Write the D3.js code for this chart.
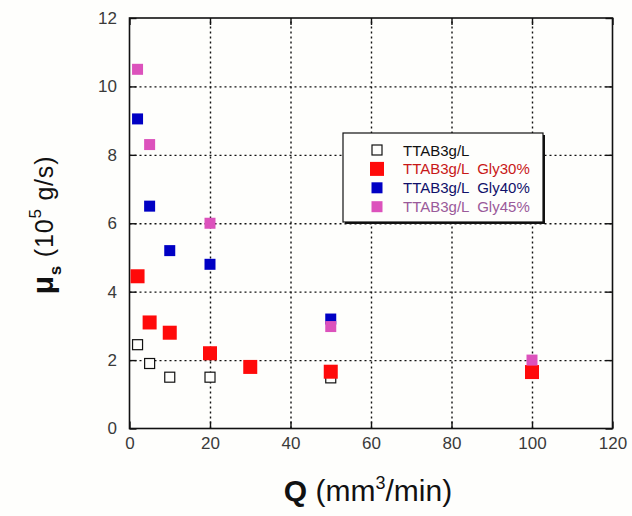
<!DOCTYPE html>
<html>
<head>
<meta charset="utf-8">
<script src="https://cdn.jsdelivr.net/npm/d3@7/dist/d3.min.js"></script>
<style>
  html, body { margin: 0; padding: 0; background: #fefefc; }
  svg { display: block; }
</style>
</head>
<body>
<svg id="chart" width="632" height="516"></svg>
<script>
// ---- data ----
const xTicks = [0, 20, 40, 60, 80, 100, 120];
const yTicks = [0, 2, 4, 6, 8, 10, 12];

const seriesNames = ["TTAB3g/L", "TTAB3g/L  Gly30%", "TTAB3g/L  Gly40%", "TTAB3g/L  Gly45%"];

const qTTAB  = [2, 5, 10, 20, 50];
const muTTAB = [2.45, 1.9, 1.5, 1.5, 1.48];

const qGly30  = [2, 5, 10, 20, 30, 50, 100];
const muGly30 = [4.45, 3.1, 2.8, 2.2, 1.8, 1.66, 1.65];

const qGly40  = [2, 5, 10, 20, 50];
const muGly40 = [9.05, 6.5, 5.2, 4.8, 3.2];

const qGly45  = [2, 5, 20, 50, 100];
const muGly45 = [10.5, 8.3, 6.0, 2.98, 2.0];

// ---- styles ----
const series = [
  { name: seriesNames[0], q: qTTAB,  mu: muTTAB,  fill: "none",    stroke: "#111", size: 10, text: "#111" },
  { name: seriesNames[1], q: qGly30, mu: muGly30, fill: "#ff0a0a", stroke: "none", size: 14, text: "#c81818" },
  { name: seriesNames[2], q: qGly40, mu: muGly40, fill: "#0000c4", stroke: "none", size: 11, text: "#10106a" },
  { name: seriesNames[3], q: qGly45, mu: muGly45, fill: "#dc52bc", stroke: "none", size: 11, text: "#9a5a9a" }
];

const svg = d3.select("#chart");
const W = 632, H = 516;
const m = { left: 129.5, right: 632 - 612.5, top: 18, bottom: 516 - 428.5 };
const iw = W - m.left - m.right, ih = H - m.top - m.bottom;

const x = d3.scaleLinear().domain([0, 120]).range([m.left, m.left + iw]);
const y = d3.scaleLinear().domain([0, 12]).range([m.top + ih, m.top]);

const fontTick = "Arial, 'Liberation Sans', sans-serif";

// grid (dotted)
const g = svg.append("g");
g.append("g")
  .attr("transform", `translate(0,${m.top + ih})`)
  .call(d3.axisBottom(x).tickValues(xTicks.slice(1, -1)).tickSize(-ih).tickFormat(""))
  .call(s => s.select(".domain").remove())
  .selectAll("line").attr("stroke", "#111").attr("stroke-width", 1.4).attr("stroke-dasharray", "2,3");
g.append("g")
  .attr("transform", `translate(${m.left},0)`)
  .call(d3.axisLeft(y).tickValues(yTicks.slice(1, -1)).tickSize(-iw).tickFormat(""))
  .call(s => s.select(".domain").remove())
  .selectAll("line").attr("stroke", "#111").attr("stroke-width", 1.4).attr("stroke-dasharray", "2,3");

// axes with inward ticks
function styleAxis(s) {
  s.select(".domain").remove();
  s.selectAll("line").attr("stroke", "#111").attr("stroke-width", 1.4);
  s.selectAll("text").attr("fill", "#3a3a3a").style("font-family", fontTick).style("font-size", "17px");
}
svg.append("g").attr("transform", `translate(0,${m.top + ih})`)
  .call(d3.axisBottom(x).tickValues(xTicks).tickSize(-7).tickPadding(8)).call(styleAxis);
svg.append("g").attr("transform", `translate(${m.left},0)`)
  .call(d3.axisLeft(y).tickValues(yTicks).tickSize(-7).tickPadding(12.5)).call(styleAxis);
svg.append("g").attr("transform", `translate(0,${m.top})`)
  .call(d3.axisTop(x).tickValues(xTicks).tickSize(-7).tickFormat("")).call(styleAxis);
svg.append("g").attr("transform", `translate(${m.left + iw},0)`)
  .call(d3.axisRight(y).tickValues(yTicks).tickSize(-7).tickFormat("")).call(styleAxis);

// frame
svg.append("rect").attr("x", m.left).attr("y", m.top).attr("width", iw).attr("height", ih)
  .attr("fill", "none").attr("stroke", "#111").attr("stroke-width", 1.6);

// points
series.forEach(sr => {
  const pts = sr.q.map((q, i) => ({ q, mu: sr.mu[i] }));
  svg.append("g").selectAll("rect").data(pts).join("rect")
    .attr("x", d => x(d.q) - sr.size / 2)
    .attr("y", d => y(d.mu) - sr.size / 2)
    .attr("width", sr.size).attr("height", sr.size)
    .attr("fill", sr.fill === "none" ? "#fefefc" : sr.fill)
    .attr("stroke", sr.stroke === "none" ? null : sr.stroke)
    .attr("stroke-width", 1.2);
});

// legend
const lg = svg.append("g");
const lx = 343, ly = 133, lw = 200, lh = 89;
lg.append("rect").attr("x", lx + 2).attr("y", ly + 2).attr("width", lw).attr("height", lh).attr("fill", "#111");
lg.append("rect").attr("x", lx).attr("y", ly).attr("width", lw).attr("height", lh)
  .attr("fill", "#fefefc").attr("stroke", "#111").attr("stroke-width", 1.2);
series.forEach((sr, i) => {
  const cy = 150 + i * 18.9;
  lg.append("rect").attr("x", 377 - sr.size / 2).attr("y", cy - sr.size / 2)
    .attr("width", sr.size).attr("height", sr.size)
    .attr("fill", sr.fill === "none" ? "#fefefc" : sr.fill)
    .attr("stroke", sr.stroke === "none" ? null : sr.stroke).attr("stroke-width", 1.2);
  lg.append("text").attr("x", 403).attr("y", cy + 5.5)
    .attr("fill", sr.text).style("font-family", fontTick).style("font-size", "15px")
    .style("white-space", "pre").attr("xml:space", "preserve")
    .text(sr.name);
});

// x axis title
const xt = svg.append("text").attr("x", 368).attr("y", 501).attr("text-anchor", "middle")
  .style("font-family", fontTick).style("font-size", "30px").attr("fill", "#111");
xt.append("tspan").style("font-weight", "bold").text("Q");
xt.append("tspan").text(" (mm");
xt.append("tspan").attr("dy", -12).style("font-size", "18px").text("3");
xt.append("tspan").attr("dy", 12).text("/min)");

// y axis title
const yt = svg.append("text").attr("transform", "translate(53,225) rotate(-90)")
  .attr("text-anchor", "middle")
  .style("font-family", fontTick).style("font-size", "25px").attr("fill", "#111")
  .style("letter-spacing", "0.8px").attr("xml:space", "preserve");
yt.append("tspan").style("font-weight", "bold").style("font-size", "30px").text("μ");
yt.append("tspan").attr("dy", 8).style("font-size", "17px").style("font-weight", "bold").text("s");
yt.append("tspan").attr("dy", -8).text(" (10");
yt.append("tspan").attr("dy", -12).style("font-size", "17px").text("5");
yt.append("tspan").attr("dy", 12).text(" g/s)");
</script>
</body>
</html>
